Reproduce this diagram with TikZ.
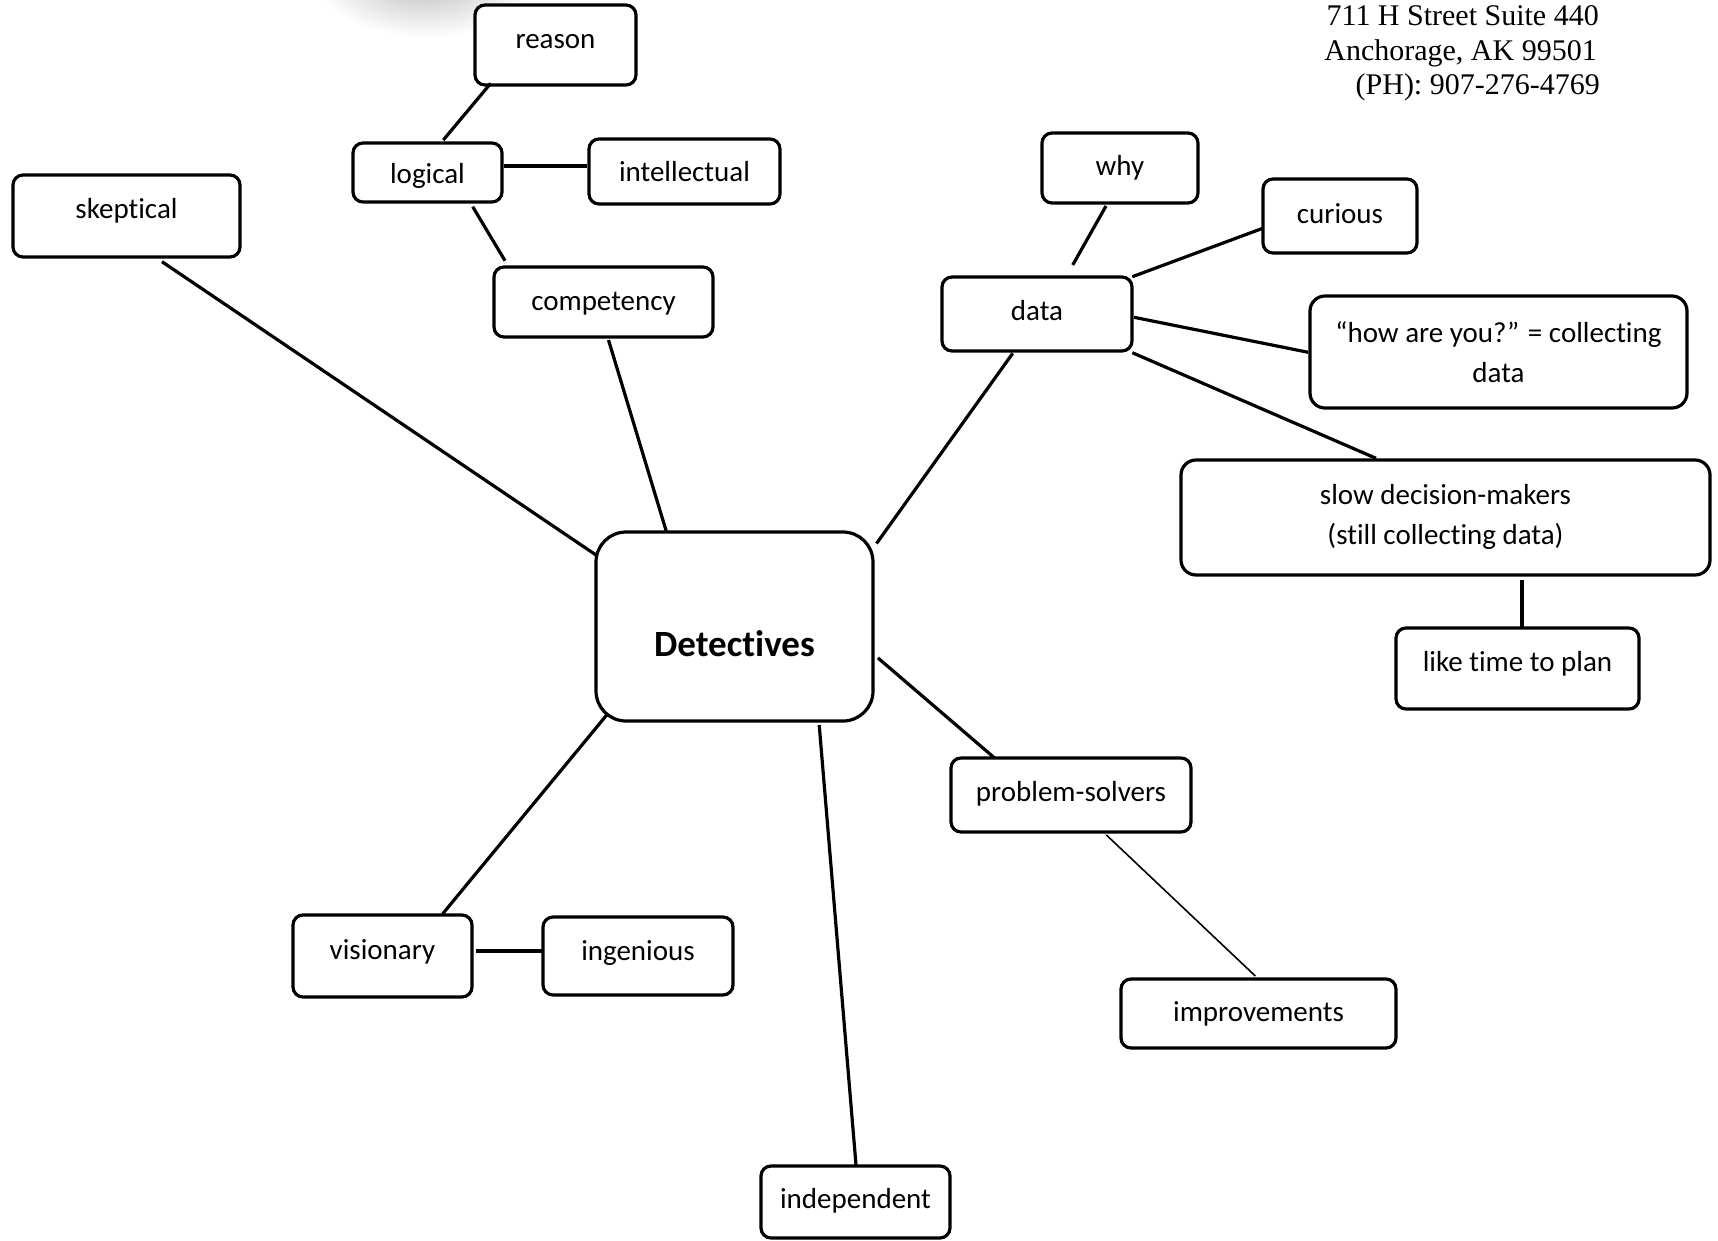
\documentclass[tikz,border=0pt]{standalone}
\usepackage{fontspec}
\setmainfont{Carlito}[Ligatures={NoCommon}]
\newfontfamily\addrfont{Liberation Serif}
\newcommand\tbox[7]{%
  \node[box, minimum width={#4-#2}, minimum height={#5-#3}] (#1) at ({(#2+#4)/2},{(#3+#5)/2}) {};
  \node[txt] (#1-t) at ({(#2+#4)/2},{#6+2}) {#7};}
\begin{document}
\begin{tikzpicture}[x=1pt,y=-1pt,
  box/.style={draw=black, line width=3.2pt, rounded corners=10pt, fill=white, inner sep=0pt, outer sep=0pt},
  txt/.style={font=\fontsize{29}{40.5}\selectfont, inner sep=0pt, text height=20pt, text depth=6pt},
  mtxt/.style={font=\fontsize{29}{40.5}\selectfont, inner sep=0pt, align=center},
  addr/.style={font=\addrfont\fontsize{30}{35}\selectfont, inner sep=0pt, anchor=base east},
  link/.style={line width=3.2pt},
  thinlink/.style={line width=1.6pt}]
\useasboundingbox (0,0) rectangle (1718,1240);
\fill[white] (0,0) rectangle (1718,1240);
% faint shadow at the top
\shade[inner color=black!30, outer color=white] (425,-30) ellipse [x radius=115, y radius=68];

% address
\node[addr] (addr1) at (1599,25) {711 H Street Suite 440};
\node[addr] (addr2) at (1597,60) {Anchorage, AK 99501};
\node[addr] (addr3) at (1600,94) {(PH): 907-276-4769};

% boxes
\tbox{reason}{475}{5}{636}{85}{39.5}{reason}
\tbox{logical}{353}{143}{502}{202}{174}{logical}
\tbox{intel}{589}{139}{780}{204}{172}{intellectual}
\tbox{skeptical}{13}{175}{240}{257}{209}{skeptical}
\tbox{competency}{494}{267}{713}{337}{301}{competency}
\tbox{why}{1042}{133}{1198}{203}{166.5}{why}
\tbox{curious}{1263}{179}{1417}{253}{214}{curious}
\tbox{data}{942}{277}{1132}{351}{311.5}{data}
\tbox{like}{1396}{628}{1639}{709}{662}{like time to plan}
\tbox{problem}{951}{758}{1191}{832}{792}{problem-solvers}
\tbox{improve}{1121}{979}{1396}{1048}{1012}{improvements}
\tbox{visionary}{293}{915}{472}{997}{950}{visionary}
\tbox{ingenious}{543}{917}{733}{995}{951}{ingenious}
\tbox{independent}{761}{1166}{950}{1238}{1199}{independent}

\node[box, rounded corners=15pt, minimum width=377, minimum height=112] (how) at (1498.5,352) {};
\node[mtxt] (how-t) at (1498.5,352) {“how are you?” = collecting\\data};
\node[box, rounded corners=15pt, minimum width=529, minimum height=115] (slow) at (1445.5,517.5) {};
\node[mtxt] (slow-t) at (1445.5,517) {slow decision-makers\\(still collecting data)};

\node[box, rounded corners=30pt, minimum width=277, minimum height=189] (det) at (734.5,626.5) {};
\node[inner sep=0pt, font=\fontsize{37}{44}\bfseries] (det-t) at (734.5,644) {Detectives};

% connector end points
\coordinate (a1) at (490.7,83.3);   \coordinate (b1) at (443.3,140);
\coordinate (a2) at (504,166);      \coordinate (b2) at (587,166);
\coordinate (a3) at (472.7,206.7);  \coordinate (b3) at (505,260.7);
\coordinate (a4) at (162,261.7);    \coordinate (b4) at (596,555);
\coordinate (a5) at (608.5,340);    \coordinate (b5) at (666.4,531.7);
\coordinate (a6) at (1012.7,353.3); \coordinate (b6) at (876.5,543.5);
\coordinate (a7) at (1106,206);     \coordinate (b7) at (1072.7,265);
\coordinate (a8) at (1132.3,276.7); \coordinate (b8) at (1262.7,228.3);
\coordinate (a9) at (1134,317.3);   \coordinate (b9) at (1308.3,352.3);
\coordinate (a10) at (1132.3,352.7);\coordinate (b10) at (1376,458.3);
\coordinate (a11) at (1522,579.6);  \coordinate (b11) at (1522,626.7);
\coordinate (a12) at (877.9,657.9); \coordinate (b12) at (994.6,758);
\coordinate (a13) at (1106.4,835);  \coordinate (b13) at (1255.3,976);
\coordinate (a14) at (606.7,715);   \coordinate (b14) at (442.5,914);
\coordinate (a15) at (476.4,951);   \coordinate (b15) at (542.5,951);
\coordinate (a16) at (819.2,725);   \coordinate (b16) at (856,1165);

\draw[link] (a1) -- (b1);
\draw[link] (a2) -- (b2);
\draw[link] (a3) -- (b3);
\draw[link] (a4) -- (b4);
\draw[link] (a5) -- (b5);
\draw[link] (a6) -- (b6);
\draw[link] (a7) -- (b7);
\draw[link] (a8) -- (b8);
\draw[link] (a9) -- (b9);
\draw[link] (a10) -- (b10);
\draw[link] (a11) -- (b11);
\draw[link] (a12) -- (b12);
\draw[thinlink] (a13) -- (b13);
\draw[link] (a14) -- (b14);
\draw[link] (a15) -- (b15);
\draw[link] (a16) -- (b16);
\end{tikzpicture}
\end{document}
